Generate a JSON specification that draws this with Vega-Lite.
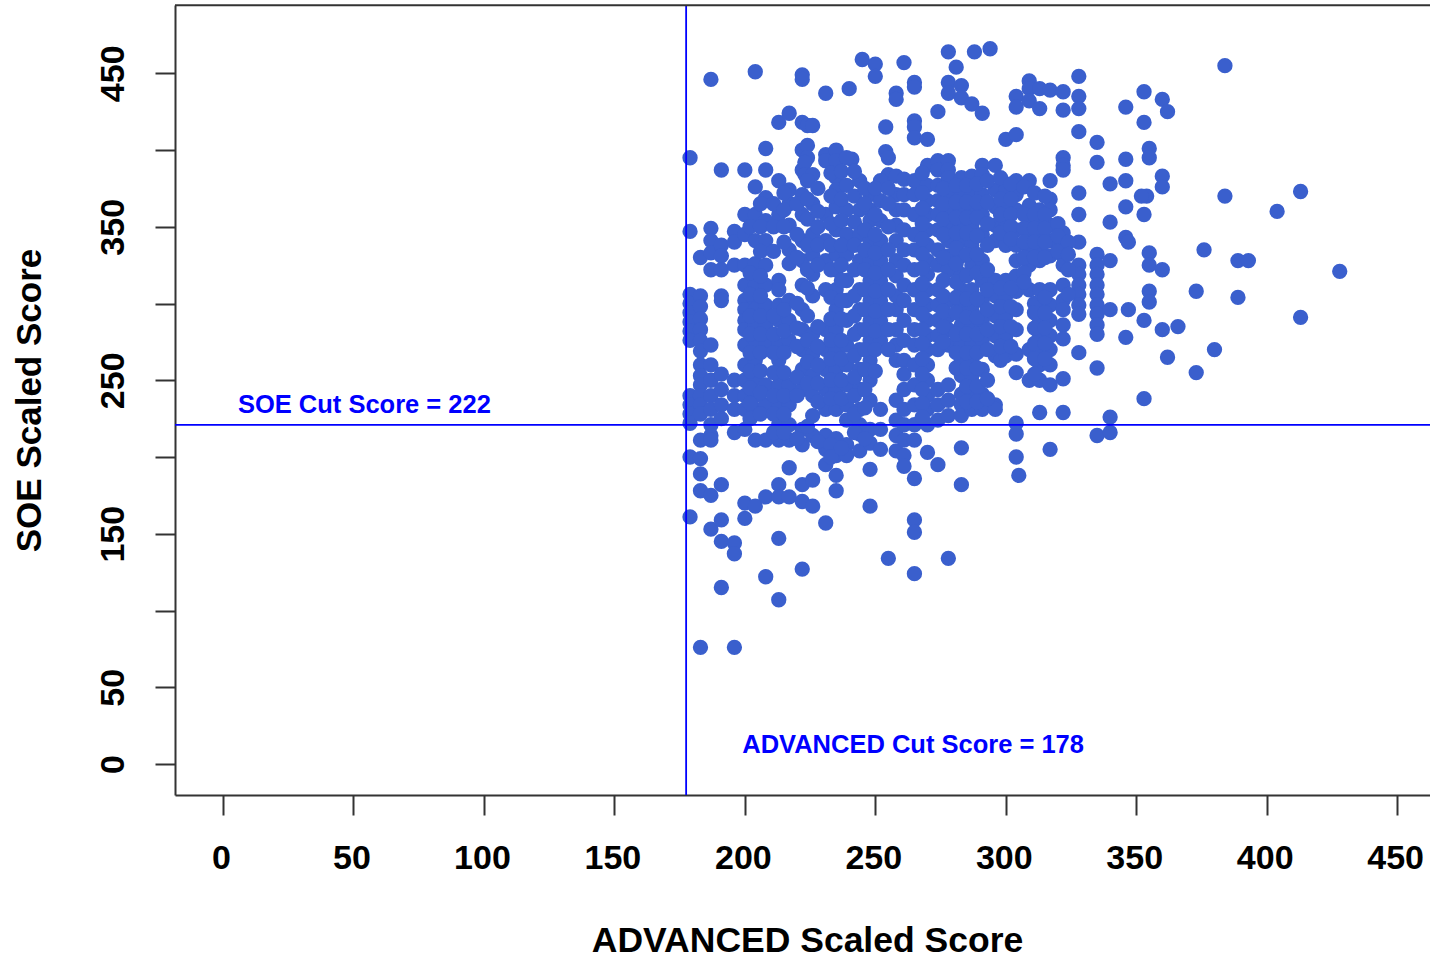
{"$schema":"https://vega.github.io/schema/vega-lite/v6.json","width":1255,"height":790,"autosize":"none","padding":{"left":175,"top":5,"right":0,"bottom":165},"background":"white","config":{"view":{"stroke":null},"font":"Liberation Sans"},"datasets":{"scores":[
{"adv":179,"soe":395},{"adv":179,"soe":347},{"adv":179,"soe":306},{"adv":179,"soe":300},{"adv":179,"soe":294},{"adv":179,"soe":288},{"adv":179,"soe":282},{"adv":179,"soe":276},{"adv":179,"soe":240},{"adv":179,"soe":234},{"adv":179,"soe":228},{"adv":179,"soe":222},{"adv":179,"soe":200},{"adv":179,"soe":161},
{"adv":183,"soe":330},{"adv":183,"soe":305},{"adv":183,"soe":298},{"adv":183,"soe":290},{"adv":183,"soe":283},{"adv":183,"soe":276},{"adv":183,"soe":269},{"adv":183,"soe":260},{"adv":183,"soe":253},{"adv":183,"soe":247},{"adv":183,"soe":240},{"adv":183,"soe":234},{"adv":183,"soe":228},{"adv":183,"soe":211},{"adv":183,"soe":199},{"adv":183,"soe":189},{"adv":183,"soe":178},{"adv":183,"soe":76},
{"adv":187,"soe":446},{"adv":187,"soe":349},{"adv":187,"soe":341},{"adv":187,"soe":333},{"adv":187,"soe":322},{"adv":187,"soe":273},{"adv":187,"soe":260},{"adv":187,"soe":250},{"adv":187,"soe":240},{"adv":187,"soe":231},{"adv":187,"soe":221},{"adv":187,"soe":214},{"adv":187,"soe":211},{"adv":187,"soe":175},{"adv":187,"soe":153},
{"adv":191,"soe":387},{"adv":191,"soe":338},{"adv":191,"soe":331},{"adv":191,"soe":322},{"adv":191,"soe":305},{"adv":191,"soe":302},{"adv":191,"soe":254},{"adv":191,"soe":244},{"adv":191,"soe":234},{"adv":191,"soe":225},{"adv":191,"soe":182},{"adv":191,"soe":159},{"adv":191,"soe":145},{"adv":191,"soe":115},
{"adv":196,"soe":347},{"adv":196,"soe":340},{"adv":196,"soe":325},{"adv":196,"soe":250},{"adv":196,"soe":240},{"adv":196,"soe":231},{"adv":196,"soe":216},{"adv":196,"soe":144},{"adv":196,"soe":137},{"adv":196,"soe":76},
{"adv":200,"soe":387},{"adv":200,"soe":358},{"adv":200,"soe":345},{"adv":200,"soe":325},{"adv":200,"soe":312},{"adv":200,"soe":302},{"adv":200,"soe":296},{"adv":200,"soe":289},{"adv":200,"soe":283},{"adv":200,"soe":273},{"adv":200,"soe":260},{"adv":200,"soe":250},{"adv":200,"soe":240},{"adv":200,"soe":231},{"adv":200,"soe":218},{"adv":200,"soe":170},{"adv":200,"soe":160},
{"adv":204,"soe":451},{"adv":204,"soe":376},{"adv":204,"soe":358},{"adv":204,"soe":341},{"adv":204,"soe":326},{"adv":204,"soe":312},{"adv":204,"soe":302},{"adv":204,"soe":296},{"adv":204,"soe":286},{"adv":204,"soe":276},{"adv":204,"soe":263},{"adv":204,"soe":251},{"adv":204,"soe":240},{"adv":204,"soe":231},{"adv":204,"soe":211},{"adv":204,"soe":168},
{"adv":208,"soe":401},{"adv":208,"soe":387},{"adv":208,"soe":369},{"adv":208,"soe":354},{"adv":208,"soe":341},{"adv":208,"soe":325},{"adv":208,"soe":312},{"adv":208,"soe":299},{"adv":208,"soe":286},{"adv":208,"soe":273},{"adv":208,"soe":247},{"adv":208,"soe":234},{"adv":208,"soe":211},{"adv":208,"soe":174},{"adv":208,"soe":122},
{"adv":213,"soe":418},{"adv":213,"soe":380},{"adv":213,"soe":358},{"adv":213,"soe":315},{"adv":213,"soe":309},{"adv":213,"soe":299},{"adv":213,"soe":289},{"adv":213,"soe":273},{"adv":213,"soe":263},{"adv":213,"soe":247},{"adv":213,"soe":234},{"adv":213,"soe":221},{"adv":213,"soe":211},{"adv":213,"soe":182},{"adv":213,"soe":174},{"adv":213,"soe":147},{"adv":213,"soe":107},
{"adv":217,"soe":424},{"adv":217,"soe":374},{"adv":217,"soe":365},{"adv":217,"soe":351},{"adv":217,"soe":335},{"adv":217,"soe":326},{"adv":217,"soe":302},{"adv":217,"soe":289},{"adv":217,"soe":276},{"adv":217,"soe":247},{"adv":217,"soe":234},{"adv":217,"soe":221},{"adv":217,"soe":211},{"adv":217,"soe":193},{"adv":217,"soe":174},
{"adv":222,"soe":449},{"adv":222,"soe":446},{"adv":222,"soe":418},{"adv":222,"soe":400},{"adv":222,"soe":387},{"adv":222,"soe":371},{"adv":222,"soe":358},{"adv":222,"soe":341},{"adv":222,"soe":328},{"adv":222,"soe":312},{"adv":222,"soe":296},{"adv":222,"soe":283},{"adv":222,"soe":270},{"adv":222,"soe":257},{"adv":222,"soe":244},{"adv":222,"soe":218},{"adv":222,"soe":208},{"adv":222,"soe":182},{"adv":222,"soe":171},{"adv":222,"soe":127},
{"adv":224,"soe":416},{"adv":224,"soe":403},{"adv":224,"soe":395},{"adv":223,"soe":392},{"adv":223,"soe":384},
{"adv":226,"soe":416},{"adv":226,"soe":384},{"adv":226,"soe":365},{"adv":226,"soe":345},{"adv":226,"soe":332},{"adv":226,"soe":319},{"adv":226,"soe":305},{"adv":226,"soe":280},{"adv":226,"soe":267},{"adv":226,"soe":253},{"adv":226,"soe":240},{"adv":226,"soe":227},{"adv":226,"soe":214},{"adv":226,"soe":185},{"adv":226,"soe":168},
{"adv":231,"soe":437},{"adv":231,"soe":397},{"adv":231,"soe":393},{"adv":231,"soe":358},{"adv":231,"soe":341},{"adv":231,"soe":328},{"adv":231,"soe":309},{"adv":231,"soe":283},{"adv":231,"soe":270},{"adv":231,"soe":257},{"adv":231,"soe":244},{"adv":231,"soe":231},{"adv":231,"soe":214},{"adv":231,"soe":205},{"adv":231,"soe":195},{"adv":231,"soe":157},
{"adv":235,"soe":400},{"adv":235,"soe":393},{"adv":235,"soe":382},{"adv":235,"soe":374},{"adv":235,"soe":363},{"adv":235,"soe":348},{"adv":235,"soe":332},{"adv":235,"soe":322},{"adv":235,"soe":309},{"adv":235,"soe":296},{"adv":235,"soe":283},{"adv":235,"soe":270},{"adv":235,"soe":257},{"adv":235,"soe":244},{"adv":235,"soe":231},{"adv":235,"soe":212},{"adv":235,"soe":201},{"adv":235,"soe":188},{"adv":235,"soe":178},
{"adv":240,"soe":440},{"adv":241,"soe":394},{"adv":239,"soe":395},{"adv":239,"soe":377},{"adv":239,"soe":361},{"adv":239,"soe":345},{"adv":239,"soe":332},{"adv":239,"soe":315},{"adv":239,"soe":302},{"adv":239,"soe":289},{"adv":239,"soe":273},{"adv":239,"soe":260},{"adv":239,"soe":247},{"adv":239,"soe":234},{"adv":239,"soe":224},{"adv":239,"soe":208},{"adv":239,"soe":201},
{"adv":245,"soe":459},{"adv":244,"soe":380},{"adv":244,"soe":361},{"adv":244,"soe":345},{"adv":244,"soe":328},{"adv":244,"soe":309},{"adv":244,"soe":296},{"adv":244,"soe":283},{"adv":244,"soe":270},{"adv":244,"soe":257},{"adv":244,"soe":244},{"adv":244,"soe":231},{"adv":244,"soe":221},{"adv":244,"soe":215},{"adv":244,"soe":204},
{"adv":250,"soe":456},{"adv":250,"soe":448},{"adv":254,"soe":415},{"adv":254,"soe":399},{"adv":255,"soe":395},{"adv":255,"soe":384},
{"adv":248,"soe":371},{"adv":248,"soe":361},{"adv":248,"soe":354},{"adv":248,"soe":341},{"adv":248,"soe":328},{"adv":248,"soe":315},{"adv":248,"soe":302},{"adv":248,"soe":289},{"adv":248,"soe":276},{"adv":248,"soe":263},{"adv":248,"soe":250},{"adv":248,"soe":237},{"adv":248,"soe":218},{"adv":248,"soe":209},{"adv":248,"soe":192},{"adv":248,"soe":168},{"adv":255,"soe":134},
{"adv":252,"soe":380},{"adv":252,"soe":367},{"adv":252,"soe":354},{"adv":252,"soe":341},{"adv":252,"soe":328},{"adv":252,"soe":315},{"adv":252,"soe":302},{"adv":252,"soe":289},{"adv":252,"soe":276},{"adv":252,"soe":231},{"adv":252,"soe":218},{"adv":252,"soe":205},
{"adv":258,"soe":437},{"adv":258,"soe":433},{"adv":258,"soe":383},{"adv":258,"soe":371},{"adv":258,"soe":361},{"adv":258,"soe":351},{"adv":258,"soe":341},{"adv":258,"soe":328},{"adv":258,"soe":318},{"adv":258,"soe":305},{"adv":258,"soe":296},{"adv":258,"soe":283},{"adv":258,"soe":273},{"adv":258,"soe":263},{"adv":258,"soe":237},{"adv":258,"soe":224},{"adv":258,"soe":214},{"adv":258,"soe":204},
{"adv":261,"soe":457},{"adv":261,"soe":381},{"adv":261,"soe":371},{"adv":261,"soe":361},{"adv":261,"soe":348},{"adv":261,"soe":335},{"adv":261,"soe":325},{"adv":261,"soe":312},{"adv":261,"soe":302},{"adv":261,"soe":289},{"adv":261,"soe":276},{"adv":261,"soe":263},{"adv":261,"soe":254},{"adv":261,"soe":244},{"adv":261,"soe":231},{"adv":261,"soe":221},{"adv":261,"soe":211},{"adv":261,"soe":201},{"adv":261,"soe":194},
{"adv":265,"soe":444},{"adv":265,"soe":441},{"adv":265,"soe":419},{"adv":265,"soe":415},{"adv":265,"soe":408},{"adv":265,"soe":380},{"adv":265,"soe":371},{"adv":265,"soe":358},{"adv":265,"soe":345},{"adv":265,"soe":335},{"adv":265,"soe":322},{"adv":265,"soe":309},{"adv":265,"soe":296},{"adv":265,"soe":283},{"adv":265,"soe":273},{"adv":265,"soe":260},{"adv":265,"soe":247},{"adv":265,"soe":234},{"adv":265,"soe":221},{"adv":265,"soe":211},{"adv":265,"soe":186},{"adv":265,"soe":159},{"adv":265,"soe":151},{"adv":265,"soe":124},
{"adv":270,"soe":407},{"adv":270,"soe":390},{"adv":270,"soe":377},{"adv":270,"soe":367},{"adv":270,"soe":358},{"adv":270,"soe":348},{"adv":270,"soe":338},{"adv":270,"soe":328},{"adv":270,"soe":319},{"adv":270,"soe":309},{"adv":270,"soe":299},{"adv":270,"soe":289},{"adv":270,"soe":279},{"adv":270,"soe":270},{"adv":270,"soe":260},{"adv":270,"soe":250},{"adv":270,"soe":240},{"adv":270,"soe":231},{"adv":270,"soe":221},{"adv":270,"soe":203},
{"adv":274,"soe":425},{"adv":274,"soe":393},{"adv":274,"soe":387},{"adv":274,"soe":377},{"adv":274,"soe":367},{"adv":274,"soe":358},{"adv":274,"soe":348},{"adv":274,"soe":335},{"adv":274,"soe":325},{"adv":274,"soe":309},{"adv":274,"soe":299},{"adv":274,"soe":289},{"adv":274,"soe":279},{"adv":274,"soe":270},{"adv":274,"soe":244},{"adv":274,"soe":234},{"adv":274,"soe":224},{"adv":274,"soe":195},
{"adv":278,"soe":464},{"adv":278,"soe":444},{"adv":278,"soe":437},{"adv":278,"soe":393},{"adv":278,"soe":387},{"adv":278,"soe":382},{"adv":278,"soe":371},{"adv":278,"soe":361},{"adv":278,"soe":351},{"adv":278,"soe":341},{"adv":278,"soe":331},{"adv":278,"soe":322},{"adv":278,"soe":302},{"adv":278,"soe":292},{"adv":278,"soe":283},{"adv":278,"soe":273},{"adv":278,"soe":247},{"adv":278,"soe":237},{"adv":278,"soe":227},{"adv":278,"soe":134},
{"adv":281,"soe":454},{"adv":283,"soe":442},{"adv":283,"soe":434},{"adv":283,"soe":382},{"adv":283,"soe":374},{"adv":283,"soe":361},{"adv":283,"soe":351},{"adv":283,"soe":341},{"adv":283,"soe":331},{"adv":283,"soe":319},{"adv":283,"soe":309},{"adv":283,"soe":299},{"adv":283,"soe":286},{"adv":283,"soe":273},{"adv":283,"soe":263},{"adv":283,"soe":253},{"adv":283,"soe":241},{"adv":283,"soe":234},{"adv":283,"soe":227},{"adv":283,"soe":206},{"adv":283,"soe":182},
{"adv":288,"soe":464},{"adv":287,"soe":430},{"adv":287,"soe":383},{"adv":287,"soe":371},{"adv":287,"soe":361},{"adv":287,"soe":351},{"adv":287,"soe":338},{"adv":287,"soe":325},{"adv":287,"soe":309},{"adv":287,"soe":296},{"adv":287,"soe":286},{"adv":287,"soe":273},{"adv":287,"soe":263},{"adv":287,"soe":253},{"adv":287,"soe":241},{"adv":287,"soe":231},
{"adv":291,"soe":424},{"adv":291,"soe":390},{"adv":291,"soe":384},{"adv":291,"soe":371},{"adv":291,"soe":358},{"adv":291,"soe":345},{"adv":291,"soe":328},{"adv":291,"soe":315},{"adv":291,"soe":302},{"adv":291,"soe":289},{"adv":291,"soe":276},{"adv":291,"soe":257},{"adv":291,"soe":241},{"adv":291,"soe":231},
{"adv":294,"soe":466},{"adv":296,"soe":390},{"adv":296,"soe":374},{"adv":296,"soe":363},{"adv":296,"soe":351},{"adv":296,"soe":341},{"adv":296,"soe":315},{"adv":296,"soe":305},{"adv":296,"soe":292},{"adv":296,"soe":279},{"adv":296,"soe":266},{"adv":298,"soe":263},{"adv":296,"soe":234},{"adv":296,"soe":231},
{"adv":300,"soe":407},{"adv":300,"soe":374},{"adv":300,"soe":363},{"adv":300,"soe":354},{"adv":300,"soe":345},{"adv":300,"soe":338},{"adv":300,"soe":315},{"adv":300,"soe":305},{"adv":300,"soe":292},{"adv":300,"soe":279},{"adv":300,"soe":266},
{"adv":304,"soe":435},{"adv":304,"soe":428},{"adv":304,"soe":410},{"adv":304,"soe":380},{"adv":304,"soe":371},{"adv":304,"soe":361},{"adv":304,"soe":348},{"adv":304,"soe":338},{"adv":304,"soe":328},{"adv":304,"soe":318},{"adv":304,"soe":308},{"adv":304,"soe":296},{"adv":304,"soe":283},{"adv":304,"soe":267},{"adv":304,"soe":255},{"adv":304,"soe":222},{"adv":304,"soe":215},{"adv":304,"soe":200},{"adv":305,"soe":188},
{"adv":309,"soe":445},{"adv":309,"soe":440},{"adv":309,"soe":432},{"adv":309,"soe":380},{"adv":309,"soe":364},{"adv":309,"soe":354},{"adv":309,"soe":344},{"adv":309,"soe":335},{"adv":309,"soe":325},{"adv":309,"soe":309},{"adv":309,"soe":270},{"adv":309,"soe":250},
{"adv":313,"soe":440},{"adv":313,"soe":427},{"adv":313,"soe":361},{"adv":313,"soe":354},{"adv":313,"soe":344},{"adv":313,"soe":335},{"adv":313,"soe":328},{"adv":313,"soe":309},{"adv":313,"soe":299},{"adv":313,"soe":289},{"adv":313,"soe":279},{"adv":313,"soe":270},{"adv":313,"soe":260},{"adv":313,"soe":250},{"adv":313,"soe":229},
{"adv":317,"soe":439},{"adv":317,"soe":380},{"adv":317,"soe":368},{"adv":317,"soe":361},{"adv":317,"soe":351},{"adv":317,"soe":341},{"adv":317,"soe":331},{"adv":317,"soe":309},{"adv":317,"soe":299},{"adv":317,"soe":289},{"adv":317,"soe":279},{"adv":317,"soe":270},{"adv":317,"soe":260},{"adv":317,"soe":247},{"adv":317,"soe":205},
{"adv":322,"soe":438},{"adv":322,"soe":426},{"adv":322,"soe":395},{"adv":322,"soe":390},{"adv":322,"soe":387},{"adv":322,"soe":346},{"adv":322,"soe":338},{"adv":322,"soe":331},{"adv":322,"soe":325},{"adv":322,"soe":312},{"adv":322,"soe":302},{"adv":322,"soe":296},{"adv":322,"soe":286},{"adv":322,"soe":277},{"adv":322,"soe":251},{"adv":322,"soe":229},
{"adv":328,"soe":448},{"adv":328,"soe":435},{"adv":328,"soe":427},{"adv":328,"soe":412},{"adv":328,"soe":372},{"adv":328,"soe":358},{"adv":328,"soe":340},{"adv":328,"soe":325},{"adv":328,"soe":319},{"adv":328,"soe":312},{"adv":328,"soe":306},{"adv":328,"soe":299},{"adv":328,"soe":293},{"adv":328,"soe":268},
{"adv":335,"soe":405},{"adv":335,"soe":392},{"adv":335,"soe":332},{"adv":335,"soe":325},{"adv":335,"soe":319},{"adv":335,"soe":312},{"adv":335,"soe":306},{"adv":335,"soe":299},{"adv":335,"soe":293},{"adv":335,"soe":286},{"adv":335,"soe":280},{"adv":335,"soe":258},{"adv":335,"soe":214},
{"adv":340,"soe":378},{"adv":340,"soe":353},{"adv":340,"soe":328},{"adv":340,"soe":296},{"adv":340,"soe":226},{"adv":340,"soe":216},
{"adv":346,"soe":428},{"adv":346,"soe":394},{"adv":346,"soe":380},{"adv":346,"soe":363},{"adv":346,"soe":343},{"adv":347,"soe":340},{"adv":347,"soe":296},{"adv":346,"soe":278},
{"adv":353,"soe":438},{"adv":353,"soe":418},{"adv":355,"soe":401},{"adv":355,"soe":395},{"adv":354,"soe":370},{"adv":352,"soe":370},{"adv":353,"soe":358},{"adv":355,"soe":333},{"adv":355,"soe":325},{"adv":355,"soe":308},{"adv":355,"soe":301},{"adv":353,"soe":289},{"adv":353,"soe":238},
{"adv":360,"soe":433},{"adv":362,"soe":425},{"adv":360,"soe":383},{"adv":360,"soe":376},{"adv":360,"soe":322},{"adv":360,"soe":283},{"adv":362,"soe":265},{"adv":366,"soe":285},
{"adv":373,"soe":308},{"adv":373,"soe":255},{"adv":376,"soe":335},{"adv":380,"soe":270},{"adv":384,"soe":455},{"adv":384,"soe":370},{"adv":389,"soe":328},{"adv":389,"soe":304},{"adv":393,"soe":328},{"adv":404,"soe":360},{"adv":413,"soe":373},{"adv":413,"soe":291},{"adv":428,"soe":321},
{"adv":202,"soe":350},{"adv":202,"soe":320},{"adv":202,"soe":306},{"adv":202,"soe":292},{"adv":202,"soe":280},{"adv":202,"soe":268},{"adv":202,"soe":256},{"adv":202,"soe":245},{"adv":202,"soe":235},{"adv":202,"soe":225},
{"adv":206,"soe":365},{"adv":206,"soe":350},{"adv":206,"soe":334},{"adv":206,"soe":318},{"adv":206,"soe":305},{"adv":206,"soe":292},{"adv":206,"soe":280},{"adv":206,"soe":268},{"adv":206,"soe":256},{"adv":206,"soe":242},{"adv":206,"soe":228},
{"adv":211,"soe":365},{"adv":211,"soe":350},{"adv":211,"soe":334},{"adv":211,"soe":292},{"adv":211,"soe":280},{"adv":211,"soe":268},{"adv":211,"soe":255},{"adv":211,"soe":240},{"adv":211,"soe":228},{"adv":211,"soe":216},
{"adv":215,"soe":372},{"adv":215,"soe":361},{"adv":215,"soe":350},{"adv":215,"soe":340},{"adv":215,"soe":296},{"adv":215,"soe":282},{"adv":215,"soe":268},{"adv":215,"soe":255},{"adv":215,"soe":240},{"adv":215,"soe":228},{"adv":215,"soe":216},
{"adv":220,"soe":365},{"adv":220,"soe":345},{"adv":220,"soe":330},{"adv":220,"soe":300},{"adv":220,"soe":284},{"adv":220,"soe":272},{"adv":220,"soe":252},{"adv":220,"soe":240},{"adv":220,"soe":212},
{"adv":224,"soe":380},{"adv":224,"soe":368},{"adv":224,"soe":355},{"adv":224,"soe":338},{"adv":224,"soe":322},{"adv":224,"soe":310},{"adv":224,"soe":292},{"adv":224,"soe":276},{"adv":224,"soe":262},{"adv":224,"soe":248},{"adv":224,"soe":220},
{"adv":228,"soe":375},{"adv":228,"soe":360},{"adv":228,"soe":350},{"adv":228,"soe":338},{"adv":228,"soe":325},{"adv":228,"soe":285},{"adv":228,"soe":272},{"adv":228,"soe":260},{"adv":228,"soe":248},{"adv":228,"soe":236},{"adv":228,"soe":210},
{"adv":233,"soe":385},{"adv":233,"soe":370},{"adv":233,"soe":352},{"adv":233,"soe":338},{"adv":233,"soe":322},{"adv":233,"soe":304},{"adv":233,"soe":290},{"adv":233,"soe":276},{"adv":233,"soe":264},{"adv":233,"soe":250},{"adv":233,"soe":238},{"adv":233,"soe":208},{"adv":233,"soe":200},
{"adv":237,"soe":386},{"adv":237,"soe":368},{"adv":237,"soe":354},{"adv":237,"soe":338},{"adv":237,"soe":325},{"adv":237,"soe":315},{"adv":237,"soe":302},{"adv":237,"soe":290},{"adv":237,"soe":276},{"adv":237,"soe":264},{"adv":237,"soe":250},{"adv":237,"soe":238},{"adv":237,"soe":206},
{"adv":242,"soe":386},{"adv":242,"soe":370},{"adv":242,"soe":353},{"adv":242,"soe":338},{"adv":242,"soe":322},{"adv":242,"soe":305},{"adv":242,"soe":292},{"adv":242,"soe":280},{"adv":242,"soe":266},{"adv":242,"soe":252},{"adv":242,"soe":240},{"adv":242,"soe":228},{"adv":242,"soe":216},
{"adv":246,"soe":375},{"adv":246,"soe":365},{"adv":246,"soe":348},{"adv":246,"soe":335},{"adv":246,"soe":322},{"adv":246,"soe":309},{"adv":246,"soe":296},{"adv":246,"soe":283},{"adv":246,"soe":270},{"adv":246,"soe":257},{"adv":246,"soe":244},{"adv":246,"soe":232},{"adv":246,"soe":212},
{"adv":250,"soe":375},{"adv":250,"soe":358},{"adv":250,"soe":345},{"adv":250,"soe":333},{"adv":250,"soe":320},{"adv":250,"soe":308},{"adv":250,"soe":295},{"adv":250,"soe":282},{"adv":250,"soe":270},{"adv":250,"soe":256},
{"adv":255,"soe":375},{"adv":255,"soe":365},{"adv":255,"soe":350},{"adv":255,"soe":335},{"adv":255,"soe":322},{"adv":255,"soe":309},{"adv":255,"soe":296},{"adv":255,"soe":283},{"adv":255,"soe":270},
{"adv":268,"soe":385},{"adv":268,"soe":372},{"adv":268,"soe":362},{"adv":268,"soe":352},{"adv":268,"soe":342},{"adv":268,"soe":332},{"adv":268,"soe":323},{"adv":268,"soe":313},{"adv":268,"soe":303},{"adv":268,"soe":293},{"adv":268,"soe":283},{"adv":268,"soe":274},{"adv":268,"soe":264},{"adv":268,"soe":254},{"adv":268,"soe":244},{"adv":268,"soe":235},{"adv":268,"soe":226},
{"adv":276,"soe":375},{"adv":276,"soe":365},{"adv":276,"soe":355},{"adv":276,"soe":345},{"adv":276,"soe":330},{"adv":276,"soe":315},{"adv":276,"soe":305},{"adv":276,"soe":295},{"adv":276,"soe":285},{"adv":276,"soe":275},
{"adv":281,"soe":377},{"adv":281,"soe":366},{"adv":281,"soe":356},{"adv":281,"soe":346},{"adv":281,"soe":336},{"adv":281,"soe":326},{"adv":281,"soe":314},{"adv":281,"soe":304},{"adv":281,"soe":294},{"adv":281,"soe":280},{"adv":281,"soe":268},{"adv":281,"soe":258},
{"adv":285,"soe":377},{"adv":285,"soe":366},{"adv":285,"soe":356},{"adv":285,"soe":346},{"adv":285,"soe":332},{"adv":285,"soe":318},{"adv":285,"soe":303},{"adv":285,"soe":291},{"adv":285,"soe":280},{"adv":285,"soe":268},{"adv":285,"soe":258},{"adv":285,"soe":246},{"adv":285,"soe":236},
{"adv":289,"soe":378},{"adv":289,"soe":366},{"adv":289,"soe":356},{"adv":289,"soe":344},{"adv":289,"soe":332},{"adv":289,"soe":320},{"adv":289,"soe":303},{"adv":289,"soe":291},{"adv":289,"soe":280},{"adv":289,"soe":268},{"adv":289,"soe":258},{"adv":289,"soe":246},{"adv":289,"soe":236},
{"adv":293,"soe":380},{"adv":293,"soe":366},{"adv":293,"soe":352},{"adv":293,"soe":338},{"adv":293,"soe":322},{"adv":293,"soe":309},{"adv":293,"soe":296},{"adv":293,"soe":283},{"adv":293,"soe":270},{"adv":293,"soe":250},{"adv":293,"soe":238},
{"adv":298,"soe":382},{"adv":298,"soe":368},{"adv":298,"soe":358},{"adv":298,"soe":346},{"adv":298,"soe":310},{"adv":298,"soe":298},{"adv":298,"soe":285},{"adv":298,"soe":272},
{"adv":302,"soe":378},{"adv":302,"soe":368},{"adv":302,"soe":358},{"adv":302,"soe":350},{"adv":302,"soe":342},{"adv":302,"soe":310},{"adv":302,"soe":298},{"adv":302,"soe":285},{"adv":302,"soe":272},
{"adv":307,"soe":376},{"adv":307,"soe":358},{"adv":307,"soe":349},{"adv":307,"soe":340},{"adv":307,"soe":330},{"adv":307,"soe":320},{"adv":307,"soe":314},
{"adv":311,"soe":372},{"adv":311,"soe":358},{"adv":311,"soe":349},{"adv":311,"soe":340},{"adv":311,"soe":330},{"adv":311,"soe":300},{"adv":311,"soe":294},{"adv":311,"soe":284},{"adv":311,"soe":274},{"adv":311,"soe":264},{"adv":311,"soe":254},
{"adv":315,"soe":370},{"adv":315,"soe":358},{"adv":315,"soe":349},{"adv":315,"soe":340},{"adv":315,"soe":330},{"adv":315,"soe":304},{"adv":315,"soe":294},{"adv":315,"soe":284},{"adv":315,"soe":274},{"adv":315,"soe":264},
{"adv":320,"soe":352},{"adv":320,"soe":344},{"adv":320,"soe":334},{"adv":324,"soe":340},{"adv":324,"soe":332},{"adv":324,"soe":322},{"adv":324,"soe":306}
],"notes":[{"adv":5.7,"soe":234,"label":"SOE Cut Score = 222"},{"adv":199,"soe":12.4,"label":"ADVANCED Cut Score = 178"}],"cutx":[{"adv":177.5}],"cuty":[{"soe":221}],"frame":[{"soe":494.3}]},
"layer":[
{"data":{"name":"scores"},"mark":{"type":"point","filled":true,"opacity":1,"size":235,"color":"#3A5FCD","clip":true},"encoding":{
"x":{"field":"adv","type":"quantitative","scale":{"domain":[-18.4,462.6],"nice":false,"zero":false},"axis":{"title":"ADVANCED Scaled Score","values":[0,50,100,150,200,250,300,350,400,450],"grid":false,"domain":true,"domainColor":"#333333","domainWidth":2,"tickColor":"#333333","tickWidth":2,"tickSize":20,"labelFont":"Liberation Sans","labelFontWeight":"bold","labelFontSize":34,"labelColor":"#000000","labelAngle":0,"labelBaseline":"alphabetic","labelPadding":53,"labelOffset":-2,"labelOverlap":false,"labelFlush":false,"titleFont":"Liberation Sans","titleFontWeight":"bold","titleFontSize":35.5,"titleColor":"#000000","titleX":632,"titleY":156,"titleBaseline":"alphabetic","titleAnchor":"middle","titleAlign":"center"}},
"y":{"field":"soe","type":"quantitative","scale":{"domain":[-20.2,494.5],"nice":false,"zero":false},"axis":{"title":"SOE Scaled Score","values":[0,50,100,150,200,250,300,350,400,450],"labelExpr":"datum.value==0||datum.value%100==50?datum.label:''","grid":false,"domain":true,"domainColor":"#333333","domainWidth":2,"tickColor":"#333333","tickWidth":2,"tickSize":20,"labelFont":"Liberation Sans","labelFontWeight":"bold","labelFontSize":34,"labelColor":"#000000","labelAngle":-90,"labelAlign":"center","labelBaseline":"alphabetic","labelPadding":32,"labelOverlap":false,"labelFlush":false,"titleFont":"Liberation Sans","titleFontWeight":"bold","titleFontSize":35,"titleColor":"#000000","titleX":-135,"titleY":395,"titleBaseline":"alphabetic","titleAnchor":"middle","titleAlign":"center","titleAngle":-90}}}},
{"data":{"name":"cutx"},"mark":{"type":"rule","color":"#0000FF","strokeWidth":1.8},"encoding":{"x":{"field":"adv","type":"quantitative"}}},
{"data":{"name":"cuty"},"mark":{"type":"rule","color":"#0000FF","strokeWidth":1.8},"encoding":{"y":{"field":"soe","type":"quantitative"}}},
{"data":{"name":"frame"},"mark":{"type":"rule","color":"#333333","strokeWidth":2},"encoding":{"y":{"field":"soe","type":"quantitative"}}},
{"data":{"name":"notes"},"mark":{"type":"text","align":"left","baseline":"middle","font":"Liberation Sans","fontWeight":"bold","fontSize":25.5,"color":"#0000FF"},"encoding":{"x":{"field":"adv","type":"quantitative"},"y":{"field":"soe","type":"quantitative"},"text":{"field":"label"}}}
]}
